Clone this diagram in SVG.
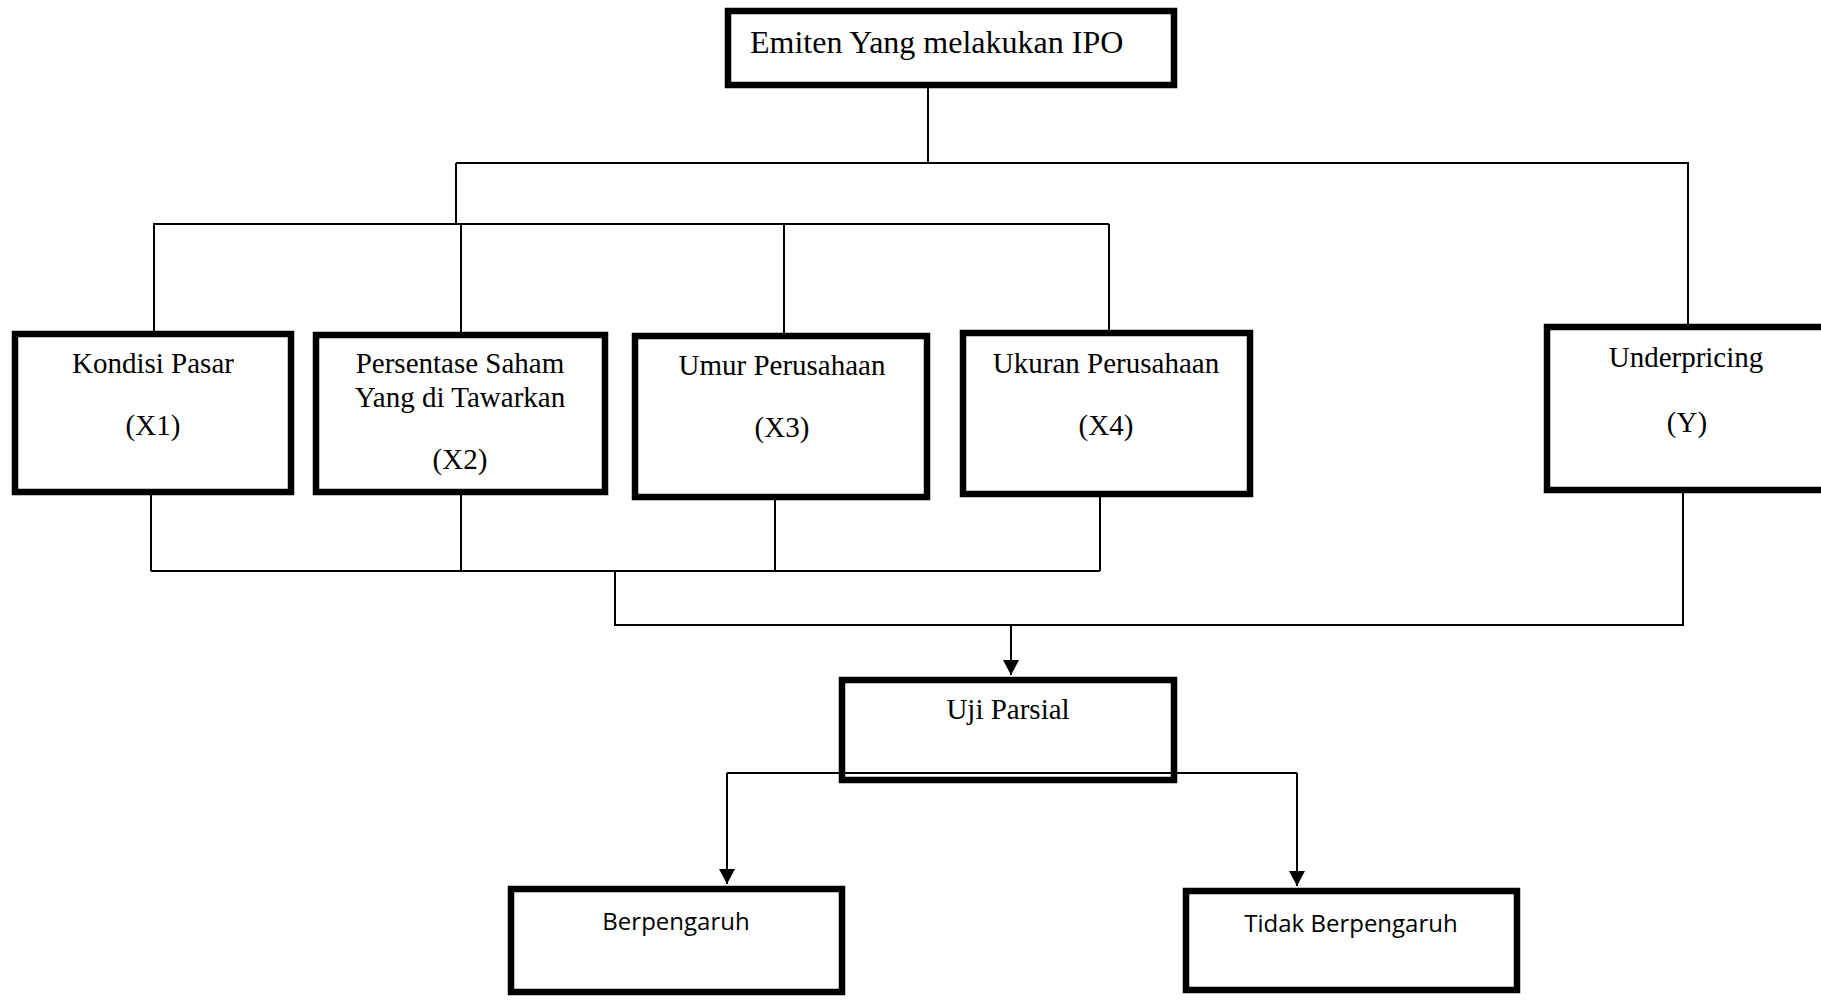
<svg xmlns="http://www.w3.org/2000/svg" width="1821" height="1001" viewBox="0 0 1821 1001">
<style>
.box{fill:#fff;stroke:#000;stroke-width:6.5}
.t{font-family:"Liberation Serif","Times New Roman",serif;font-size:29px;fill:#000;text-anchor:middle}
.s{font-family:"Open Sans","Liberation Sans",Arial,sans-serif;font-size:24px;fill:#000;text-anchor:middle}
.ln{fill:none;stroke:#000;stroke-width:2}
</style>
<defs>
<marker id="ah" markerWidth="16" markerHeight="16" refX="15" refY="8" orient="auto" markerUnits="userSpaceOnUse">
<path d="M0,0 L15,8 L0,16 Z" fill="#000"/>
</marker>
</defs>
<rect width="1821" height="1001" fill="#fff"/>
<g id="connectors">
<path class="ln" d="M928,85 V163 M456,163 H1688 V324 M456,163 V224 M153,224 H1109 M154,224 V331 M461,224 V332 M784,224 V333 M1109,224 V330"/>
<path class="ln" d="M151,495 V571 M461,495 V571 M775,500 V571 M1100,497 V571 M151,571 H1100 M615,571 V625 H1683 V493"/>
<path class="ln" d="M1011,625 V675" marker-end="url(#ah)"/>
<path class="ln" d="M727,773 H1297"/>
<path class="ln" d="M727,773 V884" marker-end="url(#ah)"/>
<path class="ln" d="M1297,773 V886" marker-end="url(#ah)"/>
</g>
<g id="n-emiten">
<rect class="box" x="728" y="11" width="446" height="74"/>
<text x="750" y="53" style="font-family:'Liberation Serif','Times New Roman',serif;font-size:32px">Emiten Yang melakukan IPO</text>
</g>
<g id="n-x1">
<rect class="box" x="15" y="334" width="276" height="158"/>
<text class="t" x="153" y="373">Kondisi Pasar</text>
<text class="t" x="153" y="435">(X1)</text>
</g>
<g id="n-x2">
<rect class="box" x="316" y="335" width="289" height="157"/>
<text class="t" x="460" y="373">Persentase Saham</text>
<text class="t" x="460" y="407">Yang di Tawarkan</text>
<text class="t" x="460" y="469">(X2)</text>
</g>
<g id="n-x3">
<rect class="box" x="635" y="336" width="292" height="161"/>
<text class="t" x="782" y="375">Umur Perusahaan</text>
<text class="t" x="782" y="437">(X3)</text>
</g>
<g id="n-x4">
<rect class="box" x="963" y="333" width="287" height="161"/>
<text class="t" x="1106" y="373">Ukuran Perusahaan</text>
<text class="t" x="1106" y="435">(X4)</text>
</g>
<g id="n-y">
<rect class="box" x="1547" y="327" width="280" height="163"/>
<text class="t" x="1686" y="367">Underpricing</text>
<text class="t" x="1687" y="432">(Y)</text>
</g>
<g id="n-uji">
<rect class="box" x="842" y="680" width="332" height="100" style="fill:none"/>
<text class="t" x="1008" y="719">Uji Parsial</text>
</g>
<g id="n-berpengaruh">
<rect class="box" x="511" y="889" width="331" height="103"/>
<text class="s" x="676" y="930">Berpengaruh</text>
</g>
<g id="n-tidak">
<rect class="box" x="1186" y="891" width="331" height="99"/>
<text class="s" x="1351" y="932">Tidak Berpengaruh</text>
</g>
</svg>
